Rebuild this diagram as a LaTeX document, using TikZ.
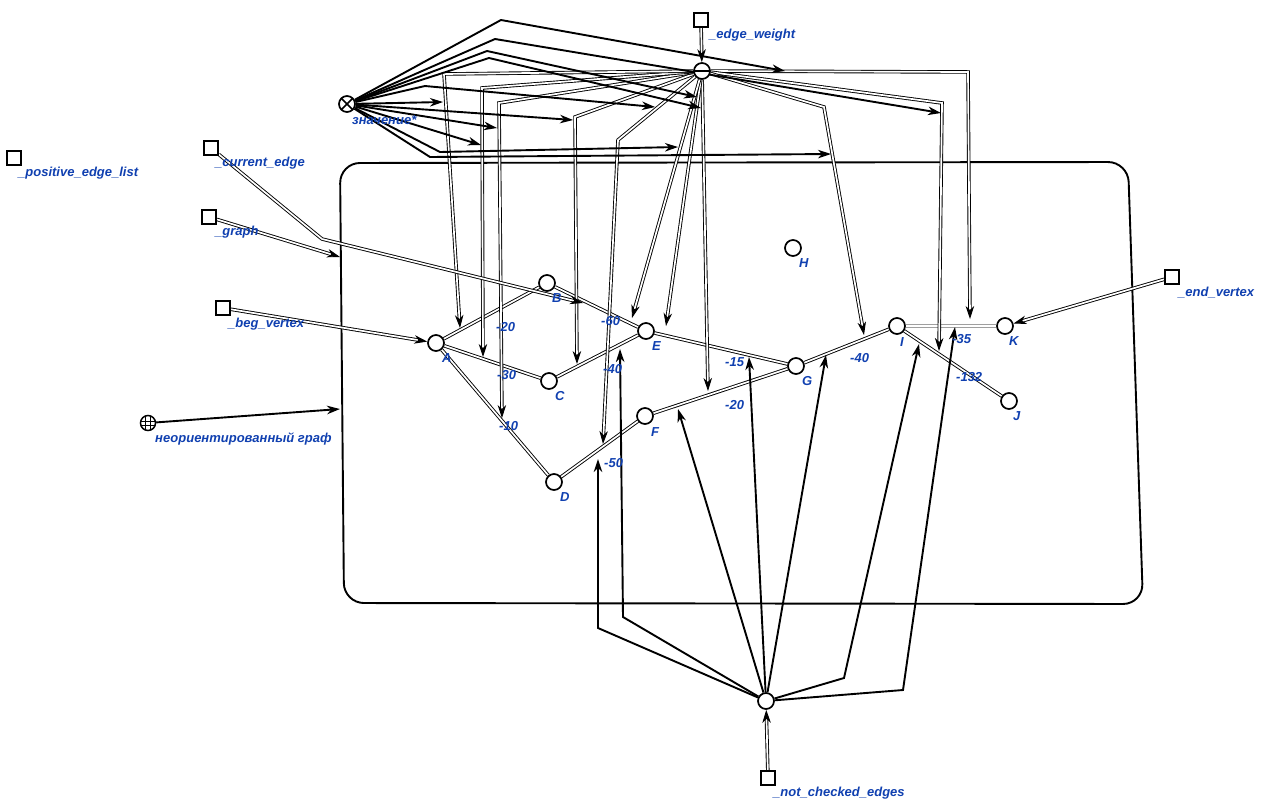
\documentclass[tikz,border=0pt]{standalone}
\usepackage{fontspec}
\setmainfont{Liberation Sans}
\usetikzlibrary{arrows.meta}
\definecolor{labelblue}{RGB}{16,64,176}
\pgfdeclarelayer{back}
\pgfsetlayers{back,main}

\tikzset{
  vtx/.style={circle, draw, line width=1.7pt, fill=white, minimum size=16pt, inner sep=0pt},
  port/.style={rectangle, draw, line width=1.7pt, fill=white, minimum size=14pt, inner sep=0pt},
  otimesnode/.style={vtx, path picture={
      \draw[line width=1.6pt] (path picture bounding box.north west) -- (path picture bounding box.south east);
      \draw[line width=1.6pt] (path picture bounding box.north east) -- (path picture bounding box.south west);}},
  ominusnode/.style={vtx, path picture={
      \draw[line width=1.3pt] (path picture bounding box.west) -- (path picture bounding box.east);}},
  globenode/.style={circle, draw, line width=1.5pt, fill=white, minimum size=15pt, inner sep=0pt, path picture={
      \draw[line width=0.9pt] ([xshift=-2.5pt]path picture bounding box.north) -- ([xshift=-2.5pt]path picture bounding box.south);
      \draw[line width=0.9pt] ([xshift=2.5pt]path picture bounding box.north) -- ([xshift=2.5pt]path picture bounding box.south);
      \draw[line width=0.9pt] ([yshift=-2pt]path picture bounding box.west) -- ([yshift=-2pt]path picture bounding box.east);
      \draw[line width=0.9pt] ([yshift=2pt]path picture bounding box.west) -- ([yshift=2pt]path picture bounding box.east);}},
  txt/.style={font=\fontsize{13}{15}\selectfont\bfseries\itshape, text=labelblue, anchor=west, inner sep=0pt, yshift=-1.5pt},
  dbl/.style={draw=black, line width=0.9pt, double=white, double distance=1.7pt},
  greydbl/.style={draw=gray!75, line width=1.2pt, double=white, double distance=1.6pt},
  tip/.style={-{Stealth[length=13pt,width=8.5pt,inset=4pt]}},
  dblarr/.style={dbl, tip},
  boldarr/.style={draw=black, line width=1.9pt, tip},
}

\begin{document}
\begin{tikzpicture}[x=1pt,y=-1pt]
\useasboundingbox (0,0) rectangle (1263,809);

% graph vertices
\node[vtx] (A) at (436,343) {};
\node[vtx] (B) at (547,283) {};
\node[vtx] (C) at (549,381) {};
\node[vtx] (D) at (554,482) {};
\node[vtx] (E) at (646,331) {};
\node[vtx] (F) at (645,416) {};
\node[vtx] (G) at (796,366) {};
\node[vtx] (H) at (793,248) {};
\node[vtx] (I) at (897,326) {};
\node[vtx] (J) at (1009,401) {};
\node[vtx] (K) at (1005,326) {};

% variables and operators
\node[port] (pel) at (14,158) {};
\node[port] (ce) at (211,148) {};
\node[port] (gr) at (209,217) {};
\node[port] (bv) at (223,308) {};
\node[port] (ev) at (1172,277) {};
\node[port] (nce) at (768,778) {};
\node[port] (ewq) at (701,20) {};
\node[otimesnode] (zn) at (347,104) {};
\node[ominusnode] (ew) at (702,71) {};
\node[vtx] (nc) at (766,701) {};
\node[globenode] (ug) at (148,423) {};

% vertex names
\node[txt] (lA) at (442,357) {A};
\node[txt] (lB) at (552,297) {B};
\node[txt] (lC) at (555,395) {C};
\node[txt] (lD) at (560,496) {D};
\node[txt] (lE) at (652,345) {E};
\node[txt] (lF) at (651,431) {F};
\node[txt] (lG) at (802,380) {G};
\node[txt] (lH) at (799,262) {H};
\node[txt] (lI) at (900,341) {I};
\node[txt] (lJ) at (1013,415) {J};
\node[txt] (lK) at (1009,340) {K};

% edge weights
\node[txt] (wAB) at (496,326) {-20};
\node[txt] (wAC) at (497,374) {-30};
\node[txt] (wAD) at (499,425) {-10};
\node[txt] (wBE) at (601,320) {-60};
\node[txt] (wCE) at (603,368) {-40};
\node[txt] (wDF) at (604,462) {-50};
\node[txt] (wEG) at (725,361) {-15};
\node[txt] (wFG) at (725,404) {-20};
\node[txt] (wGI) at (850,357) {-40};
\node[txt] (wIK) at (952,338) {-35};
\node[txt] (wIJ) at (956,376) {-132};

% variable names
\node[txt] (lzn) at (352,119) {значение*};
\node[txt] (lew) at (709,34) {\_edge\_weight};
\node[txt] (lpel) at (18,172) {\_positive\_edge\_list};
\node[txt] (lce) at (215,162) {\_current\_edge};
\node[txt] (lgr) at (215,231) {\_graph};
\node[txt] (lbv) at (228,323) {\_beg\_vertex};
\node[txt] (lug) at (155,437) {неориентированный граф};
\node[txt] (lev) at (1178,291) {\_end\_vertex};
\node[txt] (lnce) at (773,792) {\_not\_checked\_edges};

% free ends of connectors
\coordinate (t1) at (970,319);
\coordinate (t2) at (939,351);
\coordinate (t3) at (864,335);
\coordinate (t4) at (708,391);
\coordinate (t5) at (666,326);
\coordinate (t6) at (632,318);
\coordinate (t7) at (603,444);
\coordinate (t8) at (577,364);
\coordinate (t9) at (502,418);
\coordinate (t10) at (483,357);
\coordinate (t11) at (460,328);

\coordinate (a1) at (785,71);
\coordinate (a2) at (941,113);
\coordinate (a3) at (831,154);
\coordinate (a4) at (701,108);
\coordinate (a5) at (697,97);
\coordinate (a6) at (678,147);
\coordinate (a7) at (655,107);
\coordinate (a8) at (573,120);
\coordinate (a9) at (497,128);
\coordinate (a10) at (481,145);
\coordinate (a11) at (443,102);

\coordinate (n1) at (598,459);
\coordinate (n2) at (620,349);
\coordinate (n3) at (678,409);
\coordinate (n4) at (749,357);
\coordinate (n5) at (826,355);
\coordinate (n6) at (919,344);
\coordinate (n7) at (955,327);

\coordinate (cbe) at (583,303);
\coordinate (rgr) at (340,257);
\coordinate (rug) at (340,409);

\begin{pgfonlayer}{back}
% enclosing frame
\draw[line width=1.9pt, rounded corners=20pt]
  (700,162.5) -- (1128,162) -- (1143,604) -- (344,603) -- (340,163) -- cycle;

% graph edges
\draw[dbl] (A) -- (B);
\draw[dbl] (A) -- (C);
\draw[dbl] (A) -- (D);
\draw[dbl] (B) -- (E);
\draw[dbl] (C) -- (E);
\draw[dbl] (D) -- (F);
\draw[dbl] (E) -- (G);
\draw[dbl] (F) -- (G);
\draw[dbl] (G) -- (I);
\draw[dbl] (I) -- (J);
\draw[greydbl] (I) -- (K);

% weights handed to the edges
\draw[dblarr] (ew) -- (968,72) -- (t1);
\draw[dblarr] (ew) -- (942,103) -- (t2);
\draw[dblarr] (ew) -- (824,107) -- (t3);
\draw[dblarr] (ew) -- (t4);
\draw[dblarr] (ew) -- (t5);
\draw[dblarr] (ew) -- (t6);
\draw[dblarr] (ew) -- (618,140) -- (t7);
\draw[dblarr] (ew) -- (575,117) -- (t8);
\draw[dblarr] (ew) -- (499,103) -- (t9);
\draw[dblarr] (ew) -- (482,88) -- (t10);
\draw[dblarr] (ew) -- (444,74) -- (t11);

% values assigned to the weights
\draw[boldarr] (zn) -- (501,20) -- (a1);
\draw[boldarr] (zn) -- (495,39) -- (a2);
\draw[boldarr] (zn) -- (430,157) -- (a3);
\draw[boldarr] (zn) -- (489,58) -- (a4);
\draw[boldarr] (zn) -- (487,51) -- (a5);
\draw[boldarr] (zn) -- (440,152) -- (a6);
\draw[boldarr] (zn) -- (425,86) -- (a7);
\draw[boldarr] (zn) -- (a8);
\draw[boldarr] (zn) -- (a9);
\draw[boldarr] (zn) -- (a10);
\draw[boldarr] (zn) -- (a11);

% unchecked edges
\draw[boldarr] (nc) -- (598,628) -- (n1);
\draw[boldarr] (nc) -- (623,617) -- (n2);
\draw[boldarr] (nc) -- (n3);
\draw[boldarr] (nc) -- (n4);
\draw[boldarr] (nc) -- (n5);
\draw[boldarr] (nc) -- (844,678) -- (n6);
\draw[boldarr] (nc) -- (903,690) -- (n7);

% inputs
\draw[dblarr] (ce) -- (322,239) -- (cbe);
\draw[dblarr] (gr) -- (rgr);
\draw[dblarr] (bv) -- (A);
\draw[dblarr] (ev) -- (K);
\draw[dblarr] (nce) -- (nc);
\draw[dblarr] (ewq) -- (ew);
\draw[boldarr] (ug) -- (rug);
\end{pgfonlayer}
\end{tikzpicture}
\end{document}
